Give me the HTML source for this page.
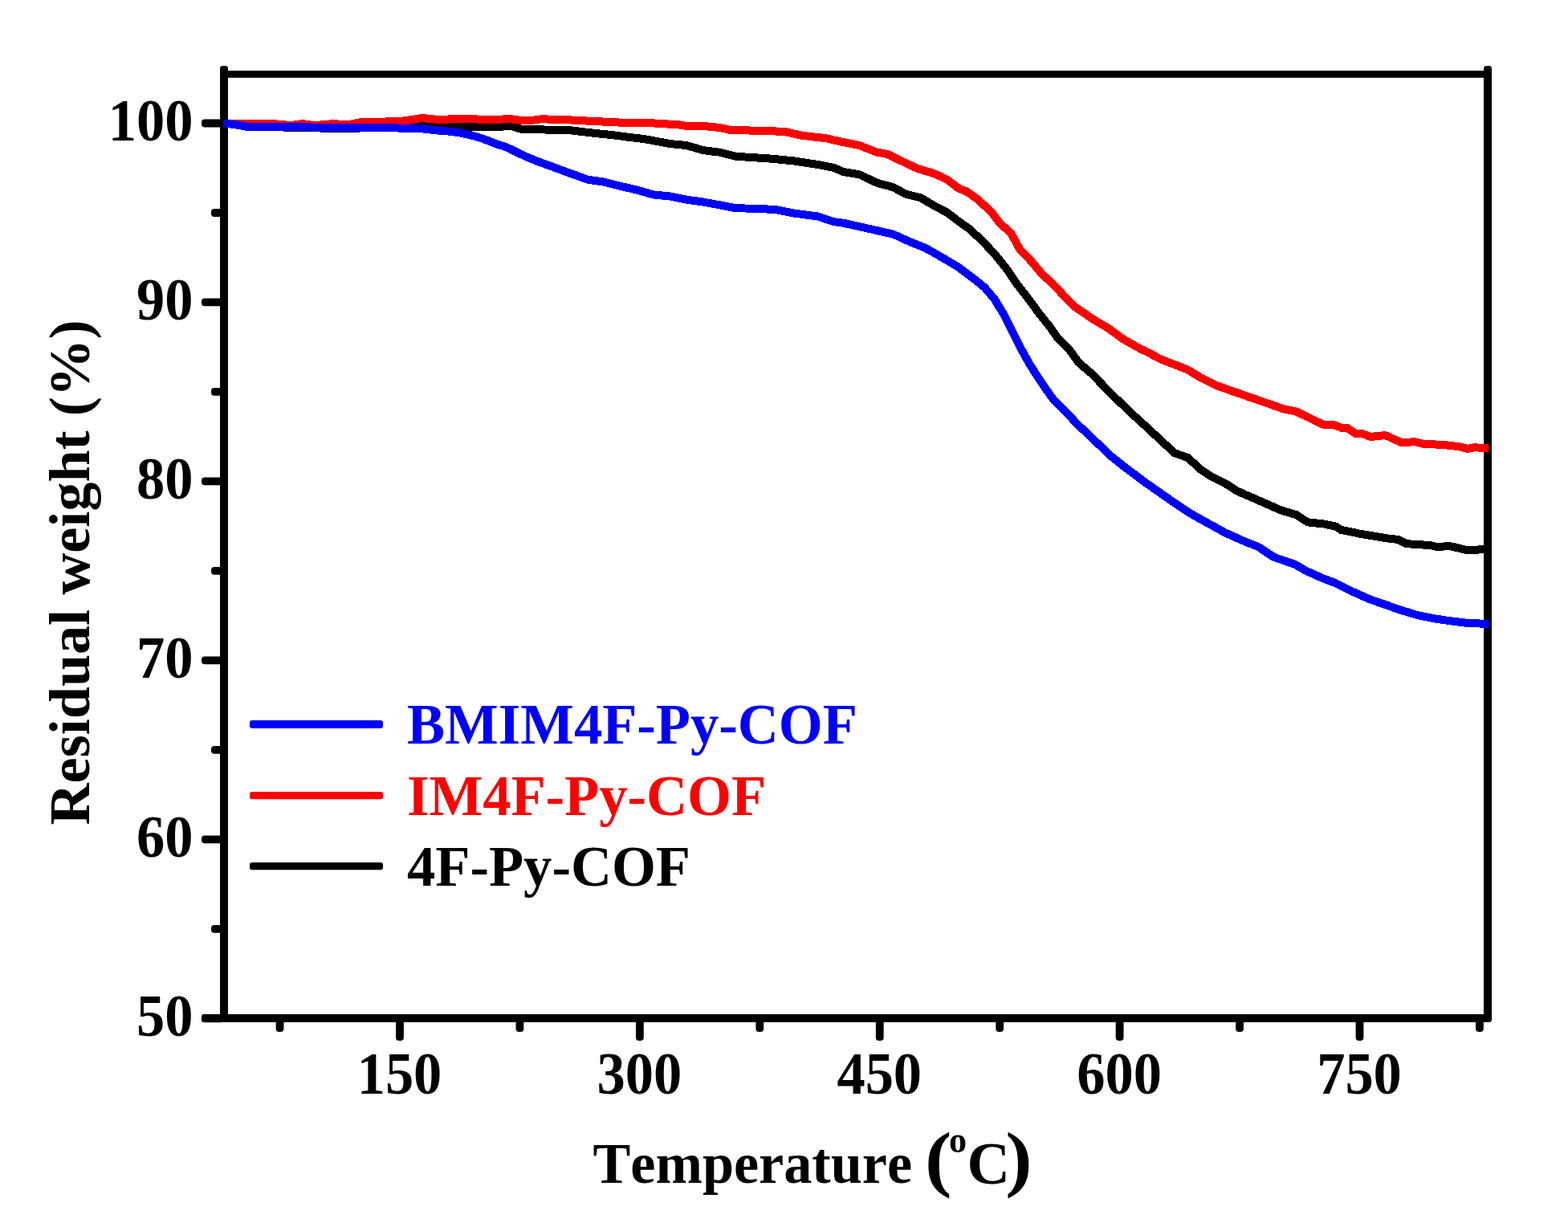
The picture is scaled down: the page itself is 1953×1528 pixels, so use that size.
<!DOCTYPE html>
<html lang="en">
<head>
<meta charset="utf-8">
<title>TGA curves</title>
<style>
html,body{margin:0;padding:0;background:#fff;}
body{width:1953px;height:1528px;overflow:hidden;}
svg{display:block;}
</style>
</head>
<body>
<svg width="1953" height="1528" viewBox="0 0 1953 1528">
<rect x="0" y="0" width="1953" height="1528" fill="#fff"/>
<g fill="#000">
<rect x="251" y="1263.35" width="28" height="9.8" rx="4" ry="4"/>
<rect x="263" y="1151.88" width="16" height="9.8" rx="4" ry="4"/>
<rect x="251" y="1040.40" width="28" height="9.8" rx="4" ry="4"/>
<rect x="263" y="928.93" width="16" height="9.8" rx="4" ry="4"/>
<rect x="251" y="817.45" width="28" height="9.8" rx="4" ry="4"/>
<rect x="263" y="705.98" width="16" height="9.8" rx="4" ry="4"/>
<rect x="251" y="594.50" width="28" height="9.8" rx="4" ry="4"/>
<rect x="263" y="483.03" width="16" height="9.8" rx="4" ry="4"/>
<rect x="251" y="371.55" width="28" height="9.8" rx="4" ry="4"/>
<rect x="263" y="260.08" width="16" height="9.8" rx="4" ry="4"/>
<rect x="251" y="148.60" width="28" height="9.8" rx="4" ry="4"/>
<rect x="343.66" y="1268" width="9.8" height="17" rx="4" ry="4"/>
<rect x="493.10" y="1268" width="9.8" height="28" rx="4" ry="4"/>
<rect x="642.54" y="1268" width="9.8" height="17" rx="4" ry="4"/>
<rect x="791.98" y="1268" width="9.8" height="28" rx="4" ry="4"/>
<rect x="941.41" y="1268" width="9.8" height="17" rx="4" ry="4"/>
<rect x="1090.85" y="1268" width="9.8" height="28" rx="4" ry="4"/>
<rect x="1240.29" y="1268" width="9.8" height="17" rx="4" ry="4"/>
<rect x="1389.72" y="1268" width="9.8" height="28" rx="4" ry="4"/>
<rect x="1539.16" y="1268" width="9.8" height="17" rx="4" ry="4"/>
<rect x="1688.60" y="1268" width="9.8" height="28" rx="4" ry="4"/>
<rect x="1838.04" y="1268" width="9.8" height="17" rx="4" ry="4"/>
<rect x="274" y="82" width="10" height="1191" rx="3.5" ry="3.5"/>
<rect x="1848" y="82" width="10" height="1191" rx="3.5" ry="3.5"/>
<rect x="276" y="88" width="1580" height="8.8"/>
<rect x="251" y="1263" width="1605" height="10" rx="3" ry="3"/>
</g>
<g fill="none" stroke-width="10.0" stroke-linejoin="round" stroke-linecap="butt" shape-rendering="crispEdges">
<path stroke="#000" d="M278.2 153.6L288.2 154.6L290.5 154.8L298.2 156.2L306.9 157.7L308.2 157.7L318.2 157.9L328.2 158.0L331.4 158.1L338.2 158.2L348.2 158.4L358.2 158.6L368.2 158.8L372.4 158.9L378.2 159.1L388.2 159.3L398.2 159.5L408.2 159.8L418.2 160.0L423.6 160.1L428.2 160.0L438.2 159.8L448.2 159.5L454.3 159.3L458.2 159.3L468.2 159.2L478.2 159.1L488.2 159.0L495.3 158.9L498.2 158.8L508.2 158.2L518.2 157.7L526.0 157.3L528.2 157.3L538.2 157.5L548.2 157.6L558.2 157.8L568.2 158.0L577.2 158.1L578.2 158.1L588.2 158.2L598.2 158.3L608.2 158.4L618.2 158.5L618.2 158.5L628.2 157.3L634.6 156.5L638.2 157.5L648.2 160.4L649.5 160.8L658.2 161.0L668.2 161.2L674.6 161.4L678.2 161.5L688.2 161.8L698.2 162.0L708.2 162.3L711.4 162.4L718.2 163.2L728.2 164.4L738.2 165.6L742.2 166.1L748.2 166.7L758.2 167.7L762.6 168.1L768.2 168.9L778.2 170.2L783.1 170.8L788.2 171.4L798.2 172.6L803.6 173.3L808.2 174.1L818.2 176.0L828.2 177.8L834.3 179.0L838.2 179.4L848.2 180.4L854.8 181.0L858.2 182.0L868.2 184.9L875.3 187.0L878.2 187.4L888.2 188.7L895.8 189.6L898.2 190.2L908.2 192.7L916.3 194.8L918.2 194.9L928.2 195.5L938.2 196.2L948.2 196.8L957.2 197.4L958.2 197.5L968.2 198.4L978.2 199.4L987.9 200.3L988.2 200.3L998.2 201.9L1008.2 203.4L1018.2 204.9L1018.7 205.0L1028.2 206.9L1038.2 208.9L1039.1 209.1L1048.2 213.0L1050.5 214.0L1058.2 215.3L1068.2 217.0L1071.0 217.6L1078.2 221.0L1088.2 225.8L1091.4 227.3L1098.2 229.5L1108.2 232.0L1111.9 233.0L1118.2 236.3L1128.2 241.7L1128.3 241.7L1138.2 244.1L1146.7 246.2L1148.2 247.1L1158.2 253.1L1163.1 256.0L1168.2 258.7L1178.2 263.9L1179.5 264.6L1188.2 271.2L1193.8 275.5L1198.2 278.6L1208.2 285.7L1218.2 295.1L1224.6 301.1L1228.2 305.0L1238.2 315.7L1238.9 316.4L1248.2 328.0L1255.3 336.9L1258.2 341.3L1265.5 352.3L1268.2 355.7L1278.2 368.6L1279.9 370.7L1288.2 382.0L1294.2 390.2L1298.2 395.2L1306.5 405.5L1308.2 407.9L1316.7 419.9L1318.2 421.3L1328.2 431.3L1331.1 434.3L1338.2 444.2L1343.4 451.4L1348.2 455.5L1358.2 464.1L1360.2 465.7L1368.2 474.1L1377.0 483.2L1378.2 484.5L1388.2 494.4L1393.4 499.4L1398.2 504.1L1408.2 513.7L1409.8 515.2L1418.2 522.8L1426.1 530.0L1428.2 531.9L1438.2 541.2L1444.6 547.1L1448.2 550.5L1458.2 559.8L1463.0 564.2L1468.2 566.0L1478.2 569.5L1479.4 570.0L1488.2 578.0L1495.8 584.9L1498.2 586.5L1508.1 593.0L1508.2 593.1L1518.2 598.1L1526.5 602.2L1528.2 603.3L1538.2 609.7L1540.8 611.4L1548.2 614.7L1557.2 618.6L1558.2 619.0L1568.2 623.4L1573.6 625.8L1578.2 627.8L1588.2 632.3L1594.1 635.0L1598.2 636.2L1608.2 639.2L1614.6 641.1L1618.2 643.5L1628.2 649.9L1628.9 650.4L1638.2 651.4L1648.2 652.4L1649.5 652.6L1658.2 654.4L1663.8 655.7L1668.2 658.6L1670.0 659.8L1678.2 661.5L1688.2 663.5L1694.6 664.9L1698.2 665.5L1708.2 667.1L1718.2 668.8L1725.3 670.0L1728.2 670.4L1738.2 671.6L1741.7 672.0L1748.2 675.3L1751.9 677.2L1758.2 677.6L1768.2 678.2L1778.2 678.9L1782.6 679.2L1788.2 680.6L1790.8 681.3L1798.2 680.5L1805.2 679.8L1808.2 680.6L1818.2 683.0L1827.7 685.4L1828.2 685.3L1838.2 684.7L1848.2 684.1L1851.0 683.9"/>
<path stroke="#f00" d="M278.2 153.6L284.3 154.2L288.2 154.2L298.2 154.2L308.2 154.2L318.2 154.2L323.2 154.2L328.2 154.2L338.2 154.2L341.7 154.2L348.2 154.8L358.2 155.7L362.2 156.0L368.2 155.2L376.5 154.0L378.2 154.3L388.2 155.8L390.8 156.3L398.2 155.6L408.2 154.7L413.4 154.2L418.2 154.4L428.2 154.9L433.9 155.2L438.2 154.4L448.2 152.4L450.2 152.0L458.2 152.0L468.2 152.0L474.8 152.0L478.2 151.7L485.1 151.1L488.2 151.3L495.3 151.5L498.2 151.1L505.5 150.1L508.2 149.7L518.2 148.2L526.0 147.0L528.2 147.3L538.2 148.3L546.5 149.1L548.2 149.0L558.2 148.5L567.0 148.1L568.2 148.1L578.2 148.1L587.5 148.1L588.2 148.1L598.2 148.8L607.9 149.5L608.2 149.5L618.2 148.9L628.2 148.4L634.6 148.1L638.2 148.5L648.2 149.8L652.5 150.3L658.2 150.2L660.2 150.1L668.2 149.1L674.6 148.3L678.2 148.4L688.2 148.7L698.2 149.1L708.2 149.4L711.4 149.5L718.2 149.9L728.2 150.4L738.2 150.9L742.2 151.1L748.2 151.4L758.2 151.9L768.2 152.4L778.2 152.9L783.1 153.2L788.2 153.2L798.2 153.2L808.2 153.2L809.8 153.2L818.2 153.7L828.2 154.3L838.2 154.9L844.6 155.2L848.2 155.8L854.8 156.9L858.2 156.8L868.2 156.5L871.2 156.5L878.2 157.2L888.2 158.2L895.8 158.9L898.2 159.4L908.2 161.6L910.1 162.0L918.2 162.2L928.2 162.4L938.2 162.6L948.2 162.8L957.2 163.0L958.2 163.1L968.2 163.6L977.7 164.0L978.2 164.1L988.2 166.4L998.2 168.7L998.2 168.7L1008.2 169.9L1018.2 171.0L1028.2 172.1L1028.9 172.2L1038.2 174.4L1048.2 176.6L1050.5 177.2L1058.2 178.7L1068.2 180.7L1071.0 181.3L1078.2 184.2L1088.2 188.2L1091.4 189.5L1098.2 190.7L1105.8 192.1L1108.2 193.3L1118.2 198.3L1122.2 200.3L1128.2 203.1L1138.2 207.8L1142.7 209.9L1148.2 211.6L1158.2 214.6L1163.1 216.1L1168.2 218.4L1178.2 223.0L1179.5 223.7L1188.2 230.2L1193.8 234.5L1198.2 236.3L1204.1 238.6L1208.2 241.5L1218.2 248.7L1218.4 248.9L1228.2 258.0L1234.8 264.2L1238.2 268.6L1245.0 277.5L1248.2 280.4L1258.2 289.7L1259.4 290.8L1268.2 306.9L1269.6 309.6L1278.2 318.9L1286.0 327.1L1288.2 329.8L1296.3 339.6L1298.2 341.4L1308.2 351.0L1316.7 359.2L1318.2 360.9L1328.2 371.7L1337.2 381.1L1338.2 381.7L1348.2 388.5L1357.7 395.1L1358.2 395.4L1368.2 401.7L1378.2 407.4L1378.2 407.4L1388.2 414.5L1398.2 421.8L1398.7 422.1L1408.2 427.6L1418.2 433.2L1419.1 433.8L1428.2 438.2L1434.3 441.3L1438.2 443.4L1444.6 446.8L1448.2 448.2L1458.2 452.2L1465.0 454.9L1468.2 456.1L1478.2 460.1L1479.4 460.6L1488.2 465.9L1495.8 470.5L1498.2 471.6L1508.2 476.5L1516.3 480.5L1518.2 481.2L1528.2 484.7L1536.7 487.7L1538.2 488.2L1548.2 491.7L1557.2 494.9L1558.2 495.2L1568.2 498.7L1577.7 501.9L1578.2 502.0L1588.2 505.6L1598.2 509.2L1598.2 509.2L1608.2 511.2L1614.6 512.5L1618.2 514.3L1628.2 519.2L1628.9 519.5L1638.2 524.0L1647.5 528.5L1648.2 528.6L1658.2 529.1L1661.8 529.3L1668.2 531.7L1672.0 533.2L1678.2 533.1L1688.2 539.9L1688.4 540.1L1696.6 540.0L1698.2 540.6L1706.9 544.0L1708.2 543.9L1718.2 542.8L1725.3 542.0L1728.2 543.3L1738.2 547.8L1745.8 551.2L1748.2 551.1L1758.2 550.4L1762.2 550.2L1768.2 551.7L1772.4 552.8L1778.2 553.1L1788.2 553.5L1797.0 553.9L1798.2 554.0L1808.2 555.2L1817.5 556.3L1818.2 556.5L1827.7 558.8L1828.2 558.7L1835.9 557.3L1838.2 557.4L1848.2 557.8L1853.7 558.0"/>
<path stroke="#00f" d="M278.2 153.6L288.2 154.6L290.5 154.8L298.2 156.2L306.9 157.7L308.2 157.7L318.2 157.8L328.2 157.9L331.4 157.9L338.2 158.0L348.2 158.1L358.2 158.2L362.2 158.3L368.2 158.1L376.5 157.9L378.2 158.0L388.2 158.6L392.9 158.9L398.2 159.0L408.2 159.1L418.2 159.3L423.6 159.3L428.2 159.2L438.2 159.0L444.1 158.9L448.2 158.9L458.2 158.9L468.2 158.9L474.8 158.9L478.2 159.0L488.2 159.3L495.3 159.5L498.2 159.6L508.2 159.9L518.2 160.1L526.0 160.3L528.2 160.6L538.2 161.7L546.5 162.6L548.2 162.7L558.2 163.5L568.2 164.7L573.1 165.3L578.2 166.6L587.5 168.6L588.2 168.8L598.2 171.7L607.9 175.2L608.2 175.3L618.2 179.3L628.2 182.4L628.4 182.5L638.2 186.8L648.2 191.8L649.5 192.4L658.2 196.3L668.2 200.4L670.5 201.4L678.2 204.1L688.2 207.7L691.0 208.8L698.2 211.4L708.2 215.1L711.4 216.4L718.2 218.6L728.2 222.4L731.9 223.7L738.2 224.6L748.2 226.0L752.4 226.7L758.2 228.2L768.2 230.7L772.9 231.9L778.2 233.1L788.2 235.4L793.4 236.6L798.2 238.0L808.2 240.9L813.9 242.5L818.2 242.9L828.2 243.9L834.3 244.5L838.2 245.3L848.2 247.3L854.8 248.6L858.2 249.1L868.2 250.5L875.3 251.5L878.2 252.0L888.2 253.8L895.8 255.2L898.2 255.7L908.2 257.7L916.3 259.3L918.2 259.3L928.2 259.5L938.2 259.7L947.0 259.9L948.2 260.0L958.2 260.7L967.5 261.3L968.2 261.5L978.2 263.5L987.9 265.4L988.2 265.5L998.2 266.8L1008.2 268.1L1018.2 269.5L1018.7 269.5L1028.2 272.8L1038.2 276.0L1039.1 276.3L1048.2 277.4L1050.5 277.7L1058.2 279.5L1068.2 281.7L1071.0 282.3L1078.2 283.9L1088.2 286.2L1091.4 286.9L1098.2 288.5L1108.2 290.7L1111.9 291.6L1118.2 294.2L1128.2 298.8L1132.4 300.7L1138.2 303.1L1148.2 307.1L1152.9 309.0L1158.2 312.0L1168.2 317.7L1173.4 320.7L1178.2 323.5L1188.2 329.4L1193.8 332.8L1198.2 336.1L1208.2 343.6L1214.3 348.2L1218.2 351.4L1226.6 358.4L1228.2 360.3L1238.2 371.9L1238.9 372.8L1248.2 388.2L1251.2 393.2L1258.2 407.2L1261.4 413.7L1268.2 427.2L1271.7 434.2L1278.2 445.9L1281.9 452.6L1288.2 462.6L1291.0 467.0L1298.2 477.9L1301.2 482.4L1308.2 492.2L1311.4 496.7L1318.2 503.5L1325.8 511.1L1328.2 513.6L1338.2 524.3L1342.2 528.5L1348.2 534.2L1358.2 543.7L1362.7 547.9L1368.2 553.2L1378.2 562.7L1383.1 567.4L1388.2 571.5L1398.2 579.5L1403.6 583.8L1408.2 587.2L1418.2 594.7L1424.1 599.1L1428.2 602.0L1438.2 609.0L1444.6 613.5L1448.2 616.0L1458.2 623.0L1465.0 627.8L1468.2 629.9L1478.2 636.4L1485.5 641.1L1488.2 642.6L1498.2 648.1L1506.0 652.4L1508.2 653.6L1518.2 659.1L1526.5 663.7L1528.2 664.4L1538.2 668.9L1547.0 672.9L1548.2 673.4L1558.2 677.4L1567.5 681.1L1568.2 681.6L1578.2 688.3L1586.0 693.5L1588.2 694.3L1598.2 697.8L1608.2 701.2L1612.7 702.8L1618.2 705.9L1627.0 711.0L1628.2 711.5L1638.2 716.0L1647.5 720.2L1648.2 720.4L1658.2 724.2L1663.8 726.3L1668.2 728.5L1678.2 733.5L1684.3 736.6L1688.2 738.3L1698.2 742.8L1704.8 745.8L1708.2 747.0L1718.2 750.5L1725.3 752.9L1728.2 754.0L1738.2 757.5L1745.8 760.1L1748.2 760.8L1758.2 763.8L1766.3 766.3L1768.2 766.6L1778.2 768.6L1786.7 770.4L1788.2 770.6L1798.2 772.1L1807.2 773.4L1808.2 773.5L1818.2 774.7L1827.7 775.9L1828.2 775.9L1838.2 776.3L1848.2 776.7L1853.7 776.9"/>
</g>
<g>
<rect fill="#00f" x="311" y="897" width="166" height="10" rx="3" ry="3"/>
<rect fill="#f00" x="311" y="986" width="166" height="9.3" rx="3" ry="3"/>
<rect fill="#000" x="311" y="1074" width="166" height="9.3" rx="3" ry="3"/>
</g>
<g font-family="'Liberation Serif', 'Times New Roman', serif" font-weight="bold" fill="#000" style="font-kerning:none">
<text transform="translate(240.60 1290.05) scale(0.966 1)" font-size="73.0px" text-anchor="end">50</text>
<text transform="translate(240.60 1067.10) scale(0.966 1)" font-size="73.0px" text-anchor="end">60</text>
<text transform="translate(240.60 844.15) scale(0.966 1)" font-size="73.0px" text-anchor="end">70</text>
<text transform="translate(240.60 621.20) scale(0.966 1)" font-size="73.0px" text-anchor="end">80</text>
<text transform="translate(240.60 398.25) scale(0.966 1)" font-size="73.0px" text-anchor="end">90</text>
<text transform="translate(240.60 175.30) scale(0.966 1)" font-size="73.0px" text-anchor="end">100</text>
<text transform="translate(497.50 1361.50) scale(0.966 1)" font-size="73.0px" text-anchor="middle">150</text>
<text transform="translate(796.38 1361.50) scale(0.966 1)" font-size="73.0px" text-anchor="middle">300</text>
<text transform="translate(1095.25 1361.50) scale(0.966 1)" font-size="73.0px" text-anchor="middle">450</text>
<text transform="translate(1394.12 1361.50) scale(0.966 1)" font-size="73.0px" text-anchor="middle">600</text>
<text transform="translate(1693.00 1361.50) scale(0.966 1)" font-size="73.0px" text-anchor="middle">750</text>
<text transform="translate(507.00 926.10) scale(0.973 1)" font-size="72.6px" fill="#00f">BMIM4F-Py-COF</text>
<text transform="translate(507.00 1014.60) scale(0.973 1)" font-size="72.6px" fill="#f00">IM4F-Py-COF</text>
<text transform="translate(507.00 1103.10) scale(0.973 1)" font-size="72.6px" fill="#000">4F-Py-COF</text>
<text transform="translate(738.50 1473.00) scale(0.964 1)" font-size="72.8px">Temperature</text>
<text transform="translate(1152.00 1473.00) scale(1.11 1)" font-size="90.4px">(</text>
<text transform="translate(1182.00 1435.00) scale(0.95 1)" font-size="46.5px">o</text>
<text transform="translate(1204.50 1473.50) scale(1.0 1)" font-size="74.0px">C</text>
<text transform="translate(1252.30 1473.00) scale(1.11 1)" font-size="90.4px">)</text>
<text transform="translate(111.30 1027.50) rotate(-90) scale(1.008 1)" font-size="71.6px">Residual weight (%)</text>
</g>
</svg>
</body>
</html>
